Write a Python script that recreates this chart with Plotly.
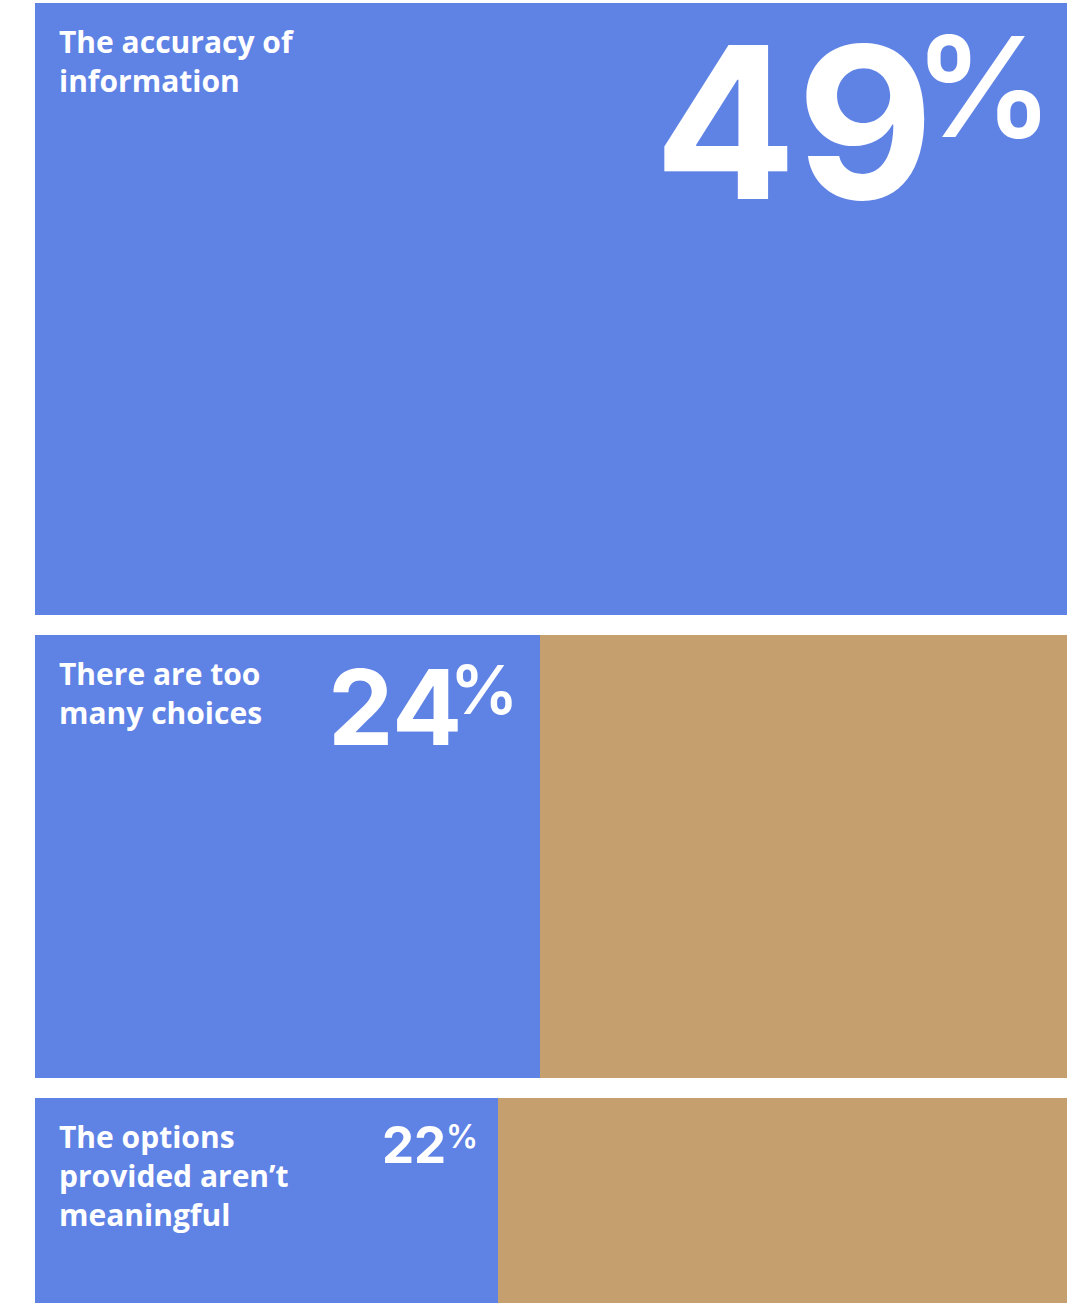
import plotly.graph_objects as go

# ---- data ----
labels = ["The accuracy of<br>information",
          "There are too<br>many choices",
          "The options<br>provided aren’t<br>meaningful"]
values = [49, 24, 22]

# ---- layout constants ----
W, H = 1084, 1303
ML, MR, MT, MB = 35, 17, 3, 0
row_h = [612, 443, 443]
gap = 20
BLUE = "#5F82E5"
BROWN = "#C69F6F"

tops = []
t = 0
for h in row_h:
    tops.append(t)
    t += h + gap
centers = [tp + h / 2 for tp, h in zip(tops, row_h)]
full = max(values)
rest = [full - v for v in values]

fig = go.Figure()
fig.add_trace(go.Bar(x=values, y=centers, width=row_h, orientation="h",
                     marker=dict(color=BLUE, line=dict(width=0)),
                     hoverinfo="skip", showlegend=False))
fig.add_trace(go.Bar(x=rest, y=centers, width=row_h, orientation="h",
                     marker=dict(color=BROWN, line=dict(width=0)),
                     hoverinfo="skip", showlegend=False))

# styling of the big numbers per row
num_size = [211, 104, 51]
pct_size = [139, 68, 32]
num_dx = [-131, -76, -50]
num_dy = [10, -7, -14]
pct_dx = [-11, -20, -18]
pct_dy = [3, -11, -17]

for i, (lab, v) in enumerate(zip(labels, values)):
    fig.add_annotation(x=0, y=tops[i], xref="x", yref="y", text=lab,
                       showarrow=False, xanchor="left", yanchor="top",
                       align="left", xshift=22, yshift=-16,
                       font=dict(family="Open Sans", size=30, color="white", weight=700))
    fig.add_annotation(x=v, y=tops[i], xref="x", yref="y", text="%",
                       showarrow=False, xanchor="right", yanchor="top",
                       xshift=pct_dx[i], yshift=pct_dy[i],
                       font=dict(family="Inter", size=pct_size[i], color="white", weight=600))
    fig.add_annotation(x=v, y=tops[i], xref="x", yref="y", text=str(v),
                       showarrow=False, xanchor="right", yanchor="top",
                       xshift=num_dx[i], yshift=num_dy[i],
                       font=dict(family="Inter", size=num_size[i], color="white", weight=700))

fig.update_layout(
    width=W, height=H, barmode="stack", bargap=0,
    margin=dict(l=ML, r=MR, t=MT, b=MB, pad=0),
    paper_bgcolor="white", plot_bgcolor="white",
    xaxis=dict(range=[0, full], visible=False, fixedrange=True),
    yaxis=dict(range=[H - MT - MB, 0], visible=False, fixedrange=True),
)
fig.write_html("out.html", config={"displayModeBar": False},
               post_script="document.body.style.margin='0';")
